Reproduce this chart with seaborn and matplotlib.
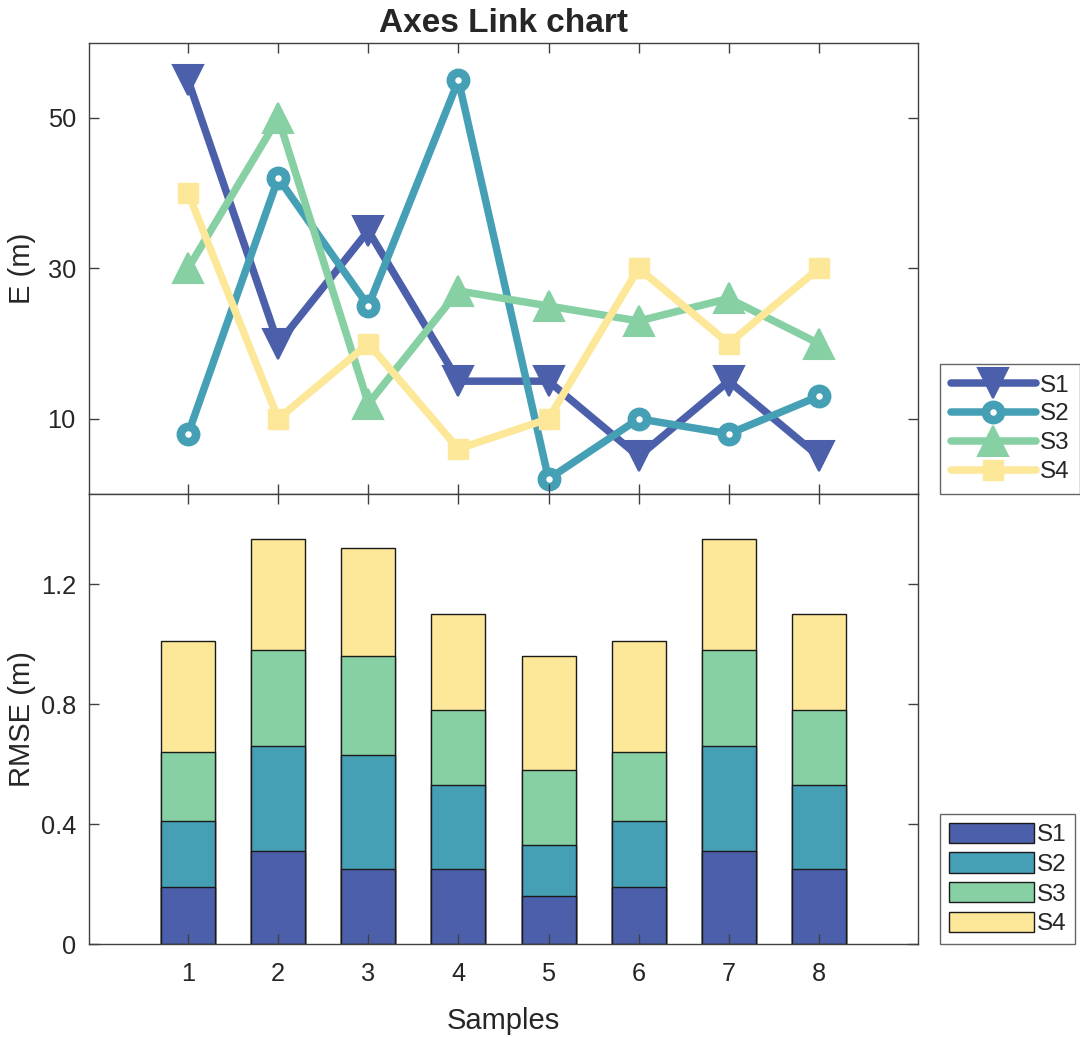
import numpy as np
import pandas as pd
import matplotlib
matplotlib.use("Agg")
import matplotlib.pyplot as plt
from matplotlib.patches import Patch
from matplotlib.lines import Line2D
import seaborn as sns

# ---------------- data ----------------
samples = [1, 2, 3, 4, 5, 6, 7, 8]
series_names = ["S1", "S2", "S3", "S4"]

e_s1 = [55, 20, 35, 15, 15, 5, 15, 5]
e_s2 = [8, 42, 25, 55, 2, 10, 8, 13]
e_s3 = [30, 50, 12, 27, 25, 23, 26, 20]
e_s4 = [40, 10, 20, 6, 10, 30, 20, 30]

rmse_s1 = [0.19, 0.31, 0.25, 0.25, 0.16, 0.19, 0.31, 0.25]
rmse_s2 = [0.22, 0.35, 0.38, 0.28, 0.17, 0.22, 0.35, 0.28]
rmse_s3 = [0.23, 0.32, 0.33, 0.25, 0.25, 0.23, 0.32, 0.25]
rmse_s4 = [0.37, 0.37, 0.36, 0.32, 0.38, 0.37, 0.37, 0.32]

e_ticks = [10, 30, 50]
rmse_ticks = [0, 0.4, 0.8, 1.2]
rmse_tick_labels = ["0", "0.4", "0.8", "1.2"]

colors = ["#4C5FAB", "#46A0B5", "#86D0A4", "#FDE798"]

# ---------------- style ----------------
sns.set_theme(style="ticks")
plt.rcParams["font.family"] = ["Liberation Sans", "DejaVu Sans"]
axis_col = "#404040"
text_col = "#262626"
plt.rcParams.update({
    "axes.edgecolor": axis_col,
    "axes.linewidth": 1.0,
    "xtick.color": axis_col,
    "ytick.color": axis_col,
    "xtick.labelcolor": text_col,
    "ytick.labelcolor": text_col,
    "text.color": text_col,
    "axes.labelcolor": text_col,
})

fig = plt.figure(figsize=(10.8, 10.37), dpi=100)
L, R = 89 / 1080, 918 / 1080
y_top = 1 - 42.7 / 1037
y_mid = 1 - 494 / 1037
y_bot = 1 - 944 / 1037
ax1 = fig.add_axes([L, y_mid, R - L, y_top - y_mid])
ax2 = fig.add_axes([L, y_bot, R - L, y_mid - y_bot])

label_fs = 21
tick_fs = 18.3

# ---------------- top: line chart ----------------
e_data = [e_s1, e_s2, e_s3, e_s4]
marker_specs = [
    dict(marker="v", markersize=22, markeredgewidth=1.5, markerfacecolor=colors[0], markeredgecolor=colors[0]),
    dict(marker="o", markersize=11, markeredgewidth=6.2, markerfacecolor="white", markeredgecolor=colors[1]),
    dict(marker="^", markersize=22, markeredgewidth=1.5, markerfacecolor=colors[2], markeredgecolor=colors[2]),
    dict(marker="s", markersize=14, markeredgewidth=1.0, markerfacecolor=colors[3], markeredgecolor=colors[3]),
]
for name, vals, col, ms in zip(series_names, e_data, colors, marker_specs):
    df = pd.DataFrame({"Samples": samples, "E": vals})
    sns.lineplot(data=df, x="Samples", y="E", ax=ax1, color=col, linewidth=5.4,
                 errorbar=None, legend=False, **ms)

ax1.set_xlim(-0.1, 9.1)
ax1.set_ylim(0, 60)
ax1.set_yticks(e_ticks)
ax1.set_xticks(samples)
ax1.set_xticklabels([])
ax1.set_xlabel("")
ax1.set_ylabel("E (m)", fontsize=label_fs)
ax1.set_title("Axes Link chart", fontsize=24, fontweight="bold", y=1.0, pad=7.5)

# ---------------- bottom: stacked bars ----------------
rmse_data = [rmse_s1, rmse_s2, rmse_s3, rmse_s4]
cum = np.cumsum(np.array(rmse_data), axis=0)
for i in range(3, -1, -1):
    df = pd.DataFrame({"Samples": samples, "RMSE": cum[i]})
    sns.barplot(data=df, x="Samples", y="RMSE", ax=ax2, native_scale=True, width=0.6,
                color=colors[i], saturation=1, edgecolor="#1a1a1a", linewidth=1.0,
                errorbar=None)

ax2.set_xlim(-0.1, 9.1)
ax2.set_ylim(0, 1.5)
ax2.set_xticks(samples)
ax2.set_xticklabels([str(s) for s in samples])
ax2.set_yticks(rmse_ticks)
ax2.set_yticklabels(rmse_tick_labels)
ax2.set_xlabel("Samples", fontsize=label_fs, labelpad=15)
ax2.set_ylabel("RMSE (m)", fontsize=label_fs)

for ax in (ax1, ax2):
    for sp in ax.spines.values():
        sp.set_visible(True)
        sp.set_color(axis_col)
    ax.tick_params(direction="in", length=7, width=1, labelsize=tick_fs,
                   top=True, right=True, bottom=True, left=True)
    ax.tick_params(axis="x", pad=13)
    ax.tick_params(axis="y", pad=9.5)
    ax.set_axisbelow(False)
ax1.tick_params(axis="x", labelbottom=False)
ax1.yaxis.set_label_coords(-0.064, 0.5)
ax2.yaxis.set_label_coords(-0.064, 0.5)

# ---------------- legends ----------------
line_handles = [Line2D([0], [0], color=c, linewidth=5.4, **ms) for c, ms in zip(colors, marker_specs)]
leg1 = fig.legend(line_handles, series_names, loc="lower left",
                  bbox_to_anchor=(940 / 1080, 1 - 494 / 1037), bbox_transform=fig.transFigure,
                  fontsize=17.5, frameon=True, fancybox=False, edgecolor="#404040",
                  handlelength=3.5, handletextpad=0.15, borderpad=0.45, labelspacing=0.28,
                  borderaxespad=0)
leg1.get_frame().set_linewidth(1.0)

patch_handles = [Patch(facecolor=c, edgecolor="#1a1a1a", linewidth=1.0) for c in colors]
leg2 = fig.legend(patch_handles, series_names, loc="lower left",
                  bbox_to_anchor=(940 / 1080, 1 - 944 / 1037), bbox_transform=fig.transFigure,
                  fontsize=17.5, frameon=True, fancybox=False, edgecolor="#404040",
                  handlelength=3.5, handleheight=0.9, handletextpad=0.15, borderpad=0.35,
                  labelspacing=0.26, borderaxespad=0)
leg2.get_frame().set_linewidth(1.0)

fig.savefig("out.png", dpi=100)
